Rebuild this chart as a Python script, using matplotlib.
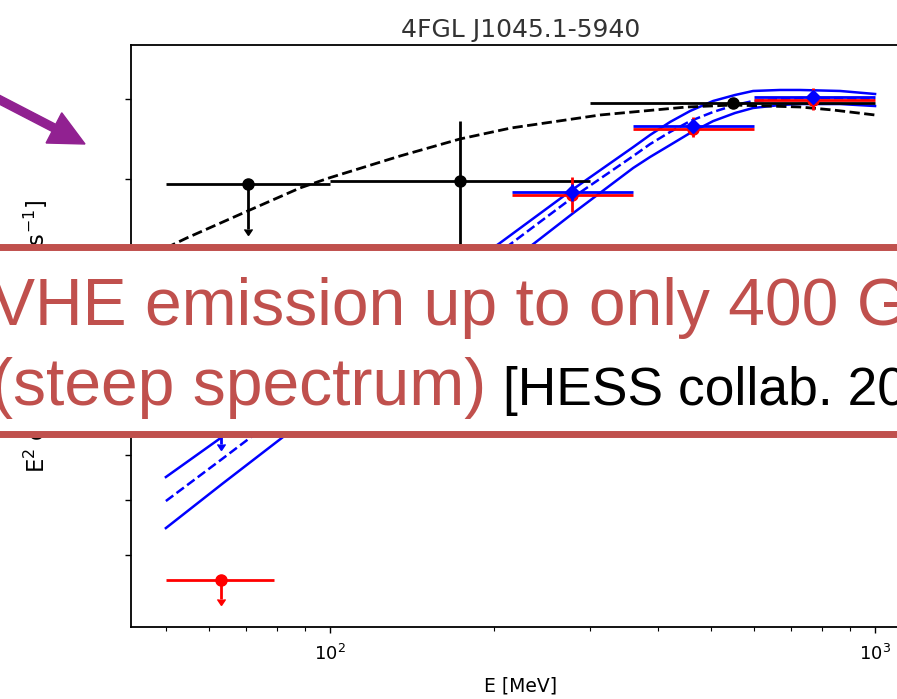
import numpy as np
import matplotlib
matplotlib.use('Agg')
import matplotlib.pyplot as plt
from matplotlib.patches import Rectangle, FancyArrow
from matplotlib.transforms import IdentityTransform


# energies in MeV, fluxes in units of 1e-12 erg cm-2 s-1
cat_e = [70.7, 173.0, 549.0]
cat_elo = [50.0, 100.0, 300.0]
cat_ehi = [100.0, 300.0, 1000.0]
cat_f = [5.77, 5.84, 7.95]
cat_fdn = [0.94, 3.39, 0.15]
cat_fup = [0.0, 1.56, 0.15]
cat_ul = [True, False, False]

red_e = [63.0, 278.0, 464.0, 770.0]
red_elo = [50.0, 216.0, 360.0, 600.0]
red_ehi = [79.0, 360.0, 600.0, 1000.0]
red_f = [1.205, 5.52, 7.18, 8.06]
red_fdn = [0.088, 0.36, 0.23, 0.33]
red_fup = [0.0, 0.41, 0.34, 0.38]
red_ul = [True, False, False, False]

blue_e = [63.0, 278.0, 464.0, 770.0]
blue_elo = [50.0, 216.0, 360.0, 600.0]
blue_ehi = [79.0, 360.0, 600.0, 1000.0]
blue_f = [2.495, 5.58, 7.27, 8.15]
blue_fdn = [0.43, 0.18, 0.15, 0.15]
blue_fup = [0.0, 0.18, 0.15, 0.15]
blue_ul = [True, False, False, False]

# fitted spectrum with its uncertainty band
band_e = [50.0, 63.4, 88.1, 134.4, 205.0, 278.0, 360.0, 386.6, 420.6, 457.8, 504.5,
          553.6, 597.3, 669.4, 728.2, 862.7, 1000.0]
band_hi = [1.810, 2.121, 2.626, 3.463, 4.568, 5.636, 6.677, 7.005, 7.374, 7.702, 8.013,
           8.206, 8.337, 8.370, 8.370, 8.337, 8.238]
band_mid = [1.646, 1.944, 2.455, 3.290, 4.409, 5.460, 6.445, 6.757, 7.088, 7.400, 7.672,
            7.886, 8.013, 8.076, 8.108, 8.108, 8.076]
band_lo = [1.479, 1.761, 2.233, 3.027, 4.106, 5.124, 6.148, 6.421, 6.731, 7.060, 7.400,
           7.642, 7.794, 7.886, 7.917, 7.917, 7.855]

# catalogue model (black dashed)
catmod_e = [50.0, 54.6, 71.3, 88.1, 99.6, 134.4, 173.2, 214.8, 312.9, 451.9, 548.9, 728.2, 837.5, 1000.0]
catmod_f = [4.479, 4.660, 5.206, 5.680, 5.909, 6.445, 6.895, 7.201, 7.581, 7.825, 7.886, 7.825, 7.732, 7.581]

ytick_vals = [1.330, 1.653, 1.975, 5.886, 8.076]

title = '4FGL J1045.1-5940'
xlabel = 'E [MeV]'
ylabel = 'E$^2$ dN/dE [erg cm$^{-2}$ s$^{-1}$]'
line1 = 'VHE emission up to only 400 GeV'
line2 = '(steep spectrum)'
ref = '[HESS collab. 2020]'

SCALE = 1e-12
BOXRED = '#C0504D'


def points(ax, e, elo, ehi, f, fdn, fup, ul, color, marker, ms, z):
    e = np.array(e)
    f = np.array(f) * SCALE
    xerr = [e - np.array(elo), np.array(ehi) - e]
    yerr = [np.array(fdn) * SCALE, np.array(fup) * SCALE]
    ax.errorbar(e, f, xerr=xerr, yerr=yerr, uplims=np.array(ul), fmt=marker, color=color,
                ms=ms, elinewidth=2.0, capsize=0, zorder=z)


def main():
    plt.rcParams['font.family'] = 'DejaVu Sans'
    W, H = 897, 699
    fig = plt.figure(figsize=(W / 100, H / 100), dpi=100)
    ax = fig.add_axes([131 / W, 1 - 627 / H, 779 / W, 582 / H])

    s = SCALE
    ax.plot(band_e, np.array(band_hi) * s, color='blue', lw=1.8, zorder=2)
    ax.plot(band_e, np.array(band_mid) * s, color='blue', lw=1.8, ls='--', zorder=2)
    ax.plot(band_e, np.array(band_lo) * s, color='blue', lw=1.8, zorder=2)
    ax.plot(catmod_e, np.array(catmod_f) * s, color='black', lw=2.0, ls='--', zorder=2.1)

    points(ax, cat_e, cat_elo, cat_ehi, cat_f, cat_fdn, cat_fup, cat_ul, 'black', 'o', 8, 3)
    points(ax, red_e, red_elo, red_ehi, red_f, red_fdn, red_fup, red_ul, 'red', 'o', 8, 4)
    points(ax, blue_e, blue_elo, blue_ehi, blue_f, blue_fdn, blue_fup, blue_ul, 'blue', 'D', 7, 5)

    ax.set_xscale('log')
    ax.set_yscale('log')
    ax.set_xlim(43.15, 1159)
    ax.set_ylim(1e-12, 1e-11)
    ax.set_yticks(np.array(ytick_vals) * s)
    ax.set_yticks([], minor=True)
    ax.set_yticklabels([])
    ax.tick_params(axis='both', which='major', labelsize=13, width=1.0, length=4, pad=8)
    ax.tick_params(axis='x', which='minor', width=0.8, length=3)
    for sp in ax.spines.values():
        sp.set_linewidth(1.3)

    ax.set_title(title, fontsize=18, color='#333333')
    ax.set_xlabel(xlabel, fontsize=13.5, labelpad=9)
    ax.set_ylabel(ylabel, fontsize=16.4)
    ax.yaxis.set_label_coords(-0.102, 0.5)

    # slide overlay: framed box with text, and the arrow
    box = Rectangle((-20, H - 433.5), W + 40, 187, transform=IdentityTransform(),
                    facecolor='white', edgecolor=BOXRED, linewidth=5.0, zorder=10)
    fig.add_artist(box)
    fig.text(-9 / W, 1 - 325 / H, line1, color=BOXRED, fontsize=47.5,
             family='Liberation Sans', va='baseline', ha='left', zorder=11)
    fig.text(-9 / W, 1 - 405 / H, line2, color=BOXRED, fontsize=47.5,
             family='Liberation Sans', va='baseline', ha='left', zorder=11)
    fig.text(503 / W, 1 - 405 / H, ref, color='black', fontsize=38.4,
             family='Liberation Sans', va='baseline', ha='left', zorder=11)

    arrow = FancyArrow(-20, H - 89.6, 105, -54.4, width=8, head_width=34, head_length=35,
                       length_includes_head=True, transform=IdentityTransform(),
                       color='#912191', zorder=12)
    fig.add_artist(arrow)

    fig.savefig('out.png', dpi=100)
    return


if __name__ == '__main__':
    main()
